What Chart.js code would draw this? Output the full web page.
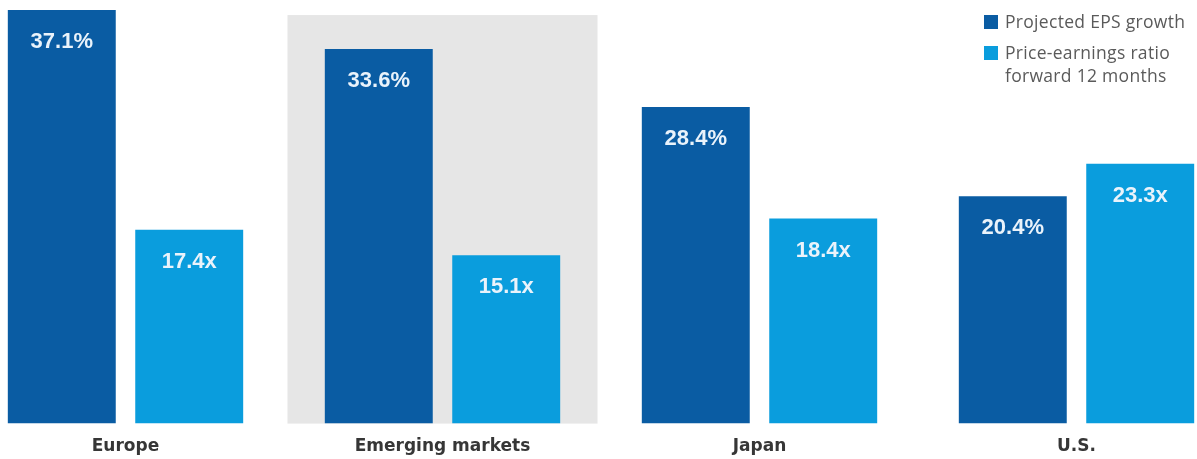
<!DOCTYPE html>
<html>
<head>
<meta charset="utf-8">
<script src="https://cdn.jsdelivr.net/npm/chart.js@4"></script>
<style>
  html, body { margin: 0; padding: 0; background: #fff; overflow: hidden; }
  #wrap { position: relative; width: 1197px; height: 459px; overflow: hidden; }
  #plot { position: absolute; left: -33px; top: 0; width: 1268px; height: 473px; }
  #legend { position: absolute; left: 984px; top: 10px; font-family: "Open Sans", sans-serif; font-size: 17.5px; letter-spacing: 0.3px; color: #5a5a5a; line-height: 23px; }
  #legend .row { display: flex; align-items: flex-start; margin-bottom: 8px; }
  #legend .box { width: 14px; height: 14px; margin: 5px 7px 0 0; flex: none; }
</style>
</head>
<body>
<div id="wrap">
  <div id="plot"><canvas id="epsChart"></canvas></div>
  <div id="legend">
    <div class="row"><span class="box" style="background:#0a5ca3"></span><span>Projected EPS growth</span></div>
    <div class="row"><span class="box" style="background:#0a9ddd"></span><span>Price-earnings ratio<br>forward 12 months</span></div>
  </div>
</div>
<script>
// 지역별 EPS 성장률과 12개월 선행 PER
const regions = ['Europe', 'Emerging markets', 'Japan', 'U.S.'];
const epsGrowth = [37.1, 33.6, 28.4, 20.4];   // %
const peForward = [17.4, 15.1, 18.4, 23.3];   // x
const highlighted = 1; // Emerging markets

const darkBlue = '#0a5ca3';
const lightBlue = '#0a9ddd';

// 강조 구간 회색 배경
const bandPlugin = {
  id: 'band',
  beforeDatasetsDraw(chart) {
    const { ctx, scales: { x, y }, chartArea } = chart;
    const cx = x.getPixelForValue(highlighted);
    const half = (chartArea.width / regions.length) * 0.489;
    const top = y.getPixelForValue(36.65);
    ctx.save();
    ctx.fillStyle = '#e6e6e6';
    ctx.fillRect(cx - half, top, half * 2, chartArea.bottom - top);
    ctx.restore();
  }
};

// 막대 안쪽 상단 값 라벨
const valueLabels = {
  id: 'valueLabels',
  afterDatasetsDraw(chart) {
    const { ctx } = chart;
    ctx.save();
    ctx.font = 'bold 22px "Liberation Sans", Arial, sans-serif';
    ctx.fillStyle = '#eaf3fb';
    ctx.textAlign = 'center';
    ctx.textBaseline = 'middle';
    chart.data.datasets.forEach((ds, i) => {
      chart.getDatasetMeta(i).data.forEach((bar, j) => {
        const v = ds.data[j].toFixed(1) + ds.suffix;
        ctx.fillText(v, bar.x, bar.y + 32);
      });
    });
    ctx.restore();
  }
};

new Chart(document.getElementById('epsChart'), {
  type: 'bar',
  data: {
    labels: regions,
    datasets: [
      {
        label: 'Projected EPS growth',
        data: epsGrowth,
        suffix: '%',
        backgroundColor: darkBlue,
        barPercentage: 0.847,
        categoryPercentage: 0.804
      },
      {
        label: 'Price-earnings ratio forward 12 months',
        data: peForward,
        suffix: 'x',
        backgroundColor: lightBlue,
        barPercentage: 0.847,
        categoryPercentage: 0.804
      }
    ]
  },
  options: {
    responsive: true,
    maintainAspectRatio: false,
    animation: false,
    layout: { padding: { left: 0, right: 0, top: 0, bottom: 3 } },
    plugins: { legend: { display: false }, tooltip: { enabled: false } },
    scales: {
      x: {
        grid: { display: false, drawTicks: false },
        border: { display: false },
        ticks: {
          padding: 13,
          color: '#363636',
          font: { family: '"DejaVu Sans", sans-serif', size: 17, weight: 'bold' }
        }
      },
      y: {
        display: false,
        min: 0,
        max: 38
      }
    }
  },
  plugins: [bandPlugin, valueLabels]
});
</script>
</body>
</html>
